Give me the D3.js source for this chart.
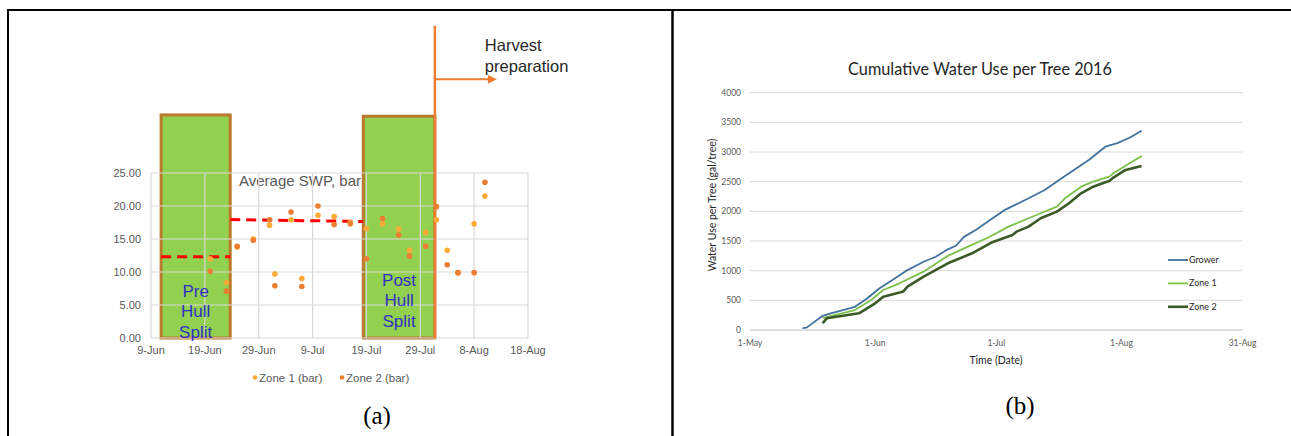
<!DOCTYPE html>
<html>
<head>
<meta charset="utf-8">
<script src="https://cdn.jsdelivr.net/npm/d3@7"></script>
<style>
	body { margin: 0; background: #fff; }
	svg { display: block; }
</style>
</head>
<body>
<svg id="chart" width="1291" height="436"></svg>
<script>
(function() {
	'use strict';

	// ---- panel (a): stem water potential ----
	const swpDates = ['2016-06-20', '2016-06-23', '2016-06-25', '2016-06-28', '2016-07-01', '2016-07-02',
		'2016-07-05', '2016-07-07', '2016-07-10', '2016-07-13', '2016-07-16', '2016-07-19', '2016-07-22',
		'2016-07-25', '2016-07-27', '2016-07-30', '2016-08-01', '2016-08-03', '2016-08-05', '2016-08-08',
		'2016-08-10'];
	const zone1Swp = [12.0, 8.4, 13.8, 15.0, 17.1, 9.7, 17.9, 9.0, 18.6, 18.4, 17.5, 16.6, 17.3, 16.5,
		13.3, 16.0, 17.9, 13.3, 9.9, 17.3, 21.5];
	const zone2Swp = [10.1, 7.1, 13.9, 14.8, 17.9, 7.9, 19.1, 7.8, 20.0, 17.2, 17.3, 12.0, 18.1, 15.6,
		12.4, 13.9, 19.9, 11.1, 9.9, 9.9, 23.6];
	const swpXTicks = ['2016-06-09', '2016-06-19', '2016-06-29', '2016-07-09', '2016-07-19', '2016-07-29',
		'2016-08-08', '2016-08-18'];
	const swpYTicks = [0, 5, 10, 15, 20, 25];
	const swpLegend = ['Zone 1 (bar)', 'Zone 2 (bar)'];
	// stage boxes and their average SWP
	const stageNames = [['Pre', 'Hull', 'Split'], ['Post', 'Hull', 'Split']];
	const stageStart = ['2016-06-10 21:00', '2016-07-18 10:00'];
	const stageEnd = ['2016-06-23 17:00', '2016-07-31 17:00'];
	const stageTop = [33.8, 33.6];
	const preMean = [12.3, 12.3];
	const postMean = [17.95, 17.65];
	const harvestDate = '2016-07-31 17:00';

	// ---- panel (b): cumulative water use ----
	const growerDates = ['05-14', '05-15', '05-19', '05-21', '05-27', '05-30', '06-02', '06-05', '06-09',
		'06-13', '06-16', '06-19', '06-21', '06-23', '06-26', '06-30', '07-03', '07-09', '07-13', '07-17',
		'07-24', '07-28', '07-31', '08-03', '08-06'];
	const growerUse = [30, 40, 240, 280, 390, 530, 700, 830, 1010, 1150, 1235, 1360, 1420, 1570, 1690,
		1880, 2020, 2220, 2360, 2550, 2870, 3090, 3150, 3240, 3360];
	const zone1Dates = ['05-19', '05-27', '05-31', '06-03', '06-07', '06-13', '06-19', '06-24', '06-29',
		'07-04', '07-09', '07-12', '07-16', '07-18', '07-22', '07-25', '07-29', '07-30', '08-03', '08-06'];
	const zone1Use = [200, 337, 506, 674, 787, 983, 1250, 1405, 1560, 1742, 1883, 1968, 2079, 2220, 2416,
		2500, 2585, 2642, 2810, 2934];
	const zone2Dates = ['05-19', '05-20', '05-28', '06-01', '06-03', '06-08', '06-09', '06-13', '06-19',
		'06-25', '06-30', '07-05', '07-06', '07-09', '07-12', '07-16', '07-19', '07-22', '07-25', '07-28',
		'07-29', '07-30', '08-02', '08-06'];
	const zone2Use = [113, 197, 281, 450, 562, 650, 730, 899, 1124, 1293, 1480, 1602, 1658, 1742, 1883,
		1996, 2136, 2304, 2416, 2490, 2510, 2570, 2698, 2765];
	const useXTicks = ['05-01', '06-01', '07-01', '08-01', '08-31'];
	const useYTicks = [0, 500, 1000, 1500, 2000, 2500, 3000, 3500, 4000];
	const useSeries = ['Grower', 'Zone 1', 'Zone 2'];

	const parseDay = d3.timeParse('%Y-%m-%d');
	const parseHour = d3.timeParse('%Y-%m-%d %H:%M');
	function parse(s) {
		if (s.length === 5) s = '2016-' + s;
		return s.length > 10 ? parseHour(s) : parseDay(s);
	}

	const svg = d3.select('#chart');
	const gray = '#595959';
	const grid = '#d9d9d9';

	// table borders
	svg.append('line').attr('x1', 7).attr('x2', 1291).attr('y1', 10).attr('y2', 10)
		.attr('stroke', '#000').attr('stroke-width', 2);
	svg.append('line').attr('x1', 8).attr('x2', 8).attr('y1', 9).attr('y2', 436)
		.attr('stroke', '#000').attr('stroke-width', 2);
	svg.append('line').attr('x1', 672.5).attr('x2', 672.5).attr('y1', 9).attr('y2', 436)
		.attr('stroke', '#000').attr('stroke-width', 2.5);

	// =================== (a) ===================
	const xa = d3.scaleTime()
		.domain([parse(swpXTicks[0]), parse(swpXTicks[swpXTicks.length - 1])])
		.range([151, 528]);
	const ya = d3.scaleLinear().domain([0, 25]).range([338, 173]);

	const ga = svg.append('g').attr('font-family', 'Liberation Sans, Arial, sans-serif');

	// title sits under the post-harvest box
	ga.append('clipPath').attr('id', 'title-clip')
		.append('rect').attr('x', 0).attr('y', 0)
		.attr('width', xa(parse(stageStart[1]))).attr('height', 436);
	ga.append('text')
		.attr('clip-path', 'url(#title-clip)')
		.attr('x', xa(parse(swpXTicks[0])) + 88).attr('y', 186)
		.attr('font-size', 15).attr('fill', gray)
		.text('Average SWP, bar');

	// green stage boxes
	ga.selectAll('.stage')
		.data(stageStart)
		.enter().append('rect')
		.attr('class', 'stage')
		.attr('x', function(d) { return xa(parse(d)); })
		.attr('y', function(d, i) { return ya(stageTop[i]); })
		.attr('width', function(d, i) { return xa(parse(stageEnd[i])) - xa(parse(d)); })
		.attr('height', function(d, i) { return ya(0) - ya(stageTop[i]); })
		.attr('fill', '#92d050')
		.attr('stroke', '#bb7a2b')
		.attr('stroke-width', 3);

	// grid over boxes
	ga.selectAll('.hgrid')
		.data(swpYTicks)
		.enter().append('line')
		.attr('x1', xa.range()[0]).attr('x2', xa.range()[1])
		.attr('y1', function(d) { return ya(d); }).attr('y2', function(d) { return ya(d); })
		.attr('stroke', grid).attr('stroke-width', 1.2);
	ga.selectAll('.vgrid')
		.data(swpXTicks)
		.enter().append('line')
		.attr('x1', function(d) { return xa(parse(d)); }).attr('x2', function(d) { return xa(parse(d)); })
		.attr('y1', ya(0)).attr('y2', ya(25))
		.attr('stroke', grid).attr('stroke-width', 1.2);

	// tick labels
	ga.selectAll('.ylab')
		.data(swpYTicks)
		.enter().append('text')
		.attr('x', 141).attr('y', function(d) { return ya(d) + 4; })
		.attr('text-anchor', 'end').attr('font-size', 11).attr('fill', gray)
		.text(d3.format('.2f'));
	ga.selectAll('.xlab')
		.data(swpXTicks)
		.enter().append('text')
		.attr('x', function(d) { return xa(parse(d)); }).attr('y', 354)
		.attr('text-anchor', 'middle').attr('font-size', 11).attr('fill', gray)
		.text(function(d) { return d3.timeFormat('%-d-%b')(parse(d)); });

	// box captions
	stageNames.forEach(function(lines, i) {
		const cx = (xa(parse(stageStart[i])) + xa(parse(stageEnd[i]))) / 2;
		const base = i === 0 ? 296.5 : 285.5;
		ga.append('text')
			.attr('text-anchor', 'middle').attr('font-size', 17).attr('fill', '#3030c4')
			.selectAll('tspan')
			.data(lines)
			.enter().append('tspan')
			.attr('x', cx)
			.attr('y', function(d, j) { return base + j * 20.5; })
			.text(function(d) { return d; });
	});

	// average dashed lines
	const dash = d3.line()
		.x(function(d) { return xa(d[0]); })
		.y(function(d) { return ya(d[1]); });
	ga.append('path')
		.attr('d', dash([[parse(stageStart[0]), preMean[0]], [parse(stageEnd[0]), preMean[1]]]))
		.attr('fill', 'none').attr('stroke', '#ff0000').attr('stroke-width', 3)
		.attr('stroke-dasharray', '10,6');
	ga.append('path')
		.attr('d', dash([[parse(stageEnd[0]), postMean[0]], [parse(stageStart[1]), postMean[1]]]))
		.attr('fill', 'none').attr('stroke', '#ff0000').attr('stroke-width', 3)
		.attr('stroke-dasharray', '10,6');

	// harvest marker
	const hx = xa(parse(harvestDate));
	ga.append('line')
		.attr('x1', hx).attr('x2', hx).attr('y1', ya(0)).attr('y2', ya(47.3))
		.attr('stroke', '#ed7d31').attr('stroke-width', 2.5);
	ga.append('line')
		.attr('x1', hx).attr('x2', hx + 55).attr('y1', ya(39.2)).attr('y2', ya(39.2))
		.attr('stroke', '#ed7d31').attr('stroke-width', 2);
	ga.append('path')
		.attr('d', 'M' + (hx + 62) + ',' + ya(39.2) + 'l-9,-4.5v9z')
		.attr('fill', '#ed7d31');
	ga.append('text')
		.attr('font-size', 16.5).attr('fill', '#262626')
		.selectAll('tspan')
		.data(['Harvest', 'preparation'])
		.enter().append('tspan')
		.attr('x', hx + 50)
		.attr('y', function(d, i) { return 51 + i * 20.5; })
		.text(function(d) { return d; });

	// points
	const swpColors = ['#fdab37', '#ed7d31'];
	[zone1Swp, zone2Swp].forEach(function(values, s) {
		ga.selectAll('.pt' + s)
			.data(values)
			.enter().append('circle')
			.attr('cx', function(d, i) { return xa(parse(swpDates[i])); })
			.attr('cy', function(d) { return ya(d); })
			.attr('r', 2.8)
			.attr('fill', swpColors[s]);
	});

	// legend
	const lx = [255, 342];
	swpLegend.forEach(function(name, i) {
		ga.append('circle').attr('cx', lx[i]).attr('cy', 377.5).attr('r', 2.3).attr('fill', swpColors[i]);
		ga.append('text').attr('x', lx[i] + 4).attr('y', 381.5)
			.attr('font-size', 11.5).attr('fill', gray).text(name);
	});

	// =================== (b) ===================
	const xb = d3.scaleTime()
		.domain([parse(useXTicks[0]), parse(useXTicks[useXTicks.length - 1])])
		.range([750, 1242.6]);
	const yb = d3.scaleLinear().domain([0, 4000]).range([330, 92.7]);

	const gb = svg.append('g').attr('font-family', 'Lato, Carlito, sans-serif');

	gb.append('text')
		.attr('x', 980).attr('y', 75)
		.attr('text-anchor', 'middle').attr('font-size', 16.3).attr('fill', '#262626')
		.text('Cumulative Water Use per Tree 2016');

	gb.selectAll('.hgrid')
		.data(useYTicks)
		.enter().append('line')
		.attr('x1', xb.range()[0]).attr('x2', xb.range()[1])
		.attr('y1', function(d) { return yb(d); }).attr('y2', function(d) { return yb(d); })
		.attr('stroke', function(d) { return d === 0 ? '#bfbfbf' : grid; })
		.attr('stroke-width', 1);

	gb.selectAll('.ylab')
		.data(useYTicks)
		.enter().append('text')
		.attr('x', 741).attr('y', function(d) { return yb(d) + 3; })
		.attr('text-anchor', 'end').attr('font-size', 8.5).attr('fill', gray)
		.text(function(d) { return d; });
	gb.selectAll('.xlab')
		.data(useXTicks)
		.enter().append('text')
		.attr('x', function(d) { return xb(parse(d)); }).attr('y', 346)
		.attr('text-anchor', 'middle').attr('font-size', 8.5).attr('fill', gray)
		.text(function(d) { return d3.timeFormat('%-d-%b')(parse(d)); });

	gb.append('text')
		.attr('transform', 'translate(716,205) rotate(-90)')
		.attr('text-anchor', 'middle').attr('font-size', 10.5).attr('fill', '#262626')
		.text('Water Use per Tree (gal/tree)');
	gb.append('text')
		.attr('x', 996).attr('y', 364)
		.attr('text-anchor', 'middle').attr('font-size', 10.5).attr('fill', '#262626')
		.text('Time (Date)');

	const useLine = d3.line()
		.x(function(d) { return xb(d[0]); })
		.y(function(d) { return yb(d[1]); });
	const seriesDates = [growerDates, zone1Dates, zone2Dates];
	const seriesUse = [growerUse, zone1Use, zone2Use];
	const seriesColor = ['#41719c', '#7cbf4c', '#3a5a28'];
	const seriesWidth = [1.8, 1.8, 2.6];

	seriesDates.forEach(function(dates, s) {
		const pts = dates.map(function(d, i) { return [parse(d), seriesUse[s][i]]; });
		gb.append('path')
			.attr('d', useLine(pts))
			.attr('fill', 'none')
			.attr('stroke', seriesColor[s])
			.attr('stroke-width', seriesWidth[s])
			.attr('stroke-linejoin', 'round');
	});

	useSeries.forEach(function(name, i) {
		const ly = 260 + i * 23.4;
		gb.append('line').attr('x1', 1168).attr('x2', 1188).attr('y1', ly).attr('y2', ly)
			.attr('stroke', seriesColor[i]).attr('stroke-width', seriesWidth[i]);
		gb.append('text').attr('x', 1189).attr('y', ly + 3)
			.attr('font-size', 9).attr('fill', '#262626').text(name);
	});

	// captions
	svg.append('text')
		.attr('x', 377).attr('y', 424)
		.attr('text-anchor', 'middle').attr('font-family', 'Liberation Serif, Times New Roman, serif')
		.attr('font-size', 25).attr('fill', '#000').text('(a)');
	svg.append('text')
		.attr('x', 1020).attr('y', 414)
		.attr('text-anchor', 'middle').attr('font-family', 'Liberation Serif, Times New Roman, serif')
		.attr('font-size', 25).attr('fill', '#000').text('(b)');
})();
</script>
</body>
</html>
